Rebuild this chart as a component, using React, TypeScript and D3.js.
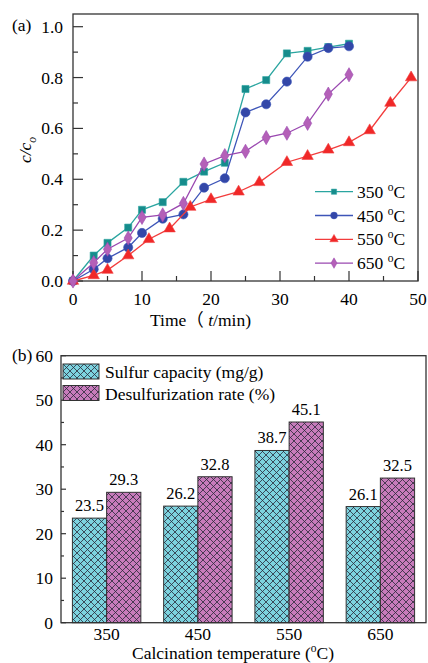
import React from "react";
import * as d3 from "d3";

const timesA = [0, 3, 5, 8, 10, 13, 16, 19, 22, 25, 28, 31, 34, 37, 40];
const c350 = [0, 0.1, 0.15, 0.21, 0.28, 0.31, 0.39, 0.43, 0.465, 0.755, 0.79, 0.895, 0.905, 0.92, 0.933];
const c450 = [0, 0.046, 0.089, 0.132, 0.189, 0.245, 0.262, 0.367, 0.404, 0.663, 0.695, 0.784, 0.882, 0.916, 0.923];
const times550 = [0, 3, 5, 8, 11, 14, 17, 20, 24, 27, 31, 34, 37, 40, 43, 46, 49];
const c550 = [0, 0.022, 0.043, 0.1, 0.164, 0.206, 0.291, 0.321, 0.351, 0.388, 0.467, 0.491, 0.516, 0.545, 0.592, 0.7, 0.8];
const c650 = [0, 0.072, 0.125, 0.169, 0.25, 0.26, 0.305, 0.46, 0.493, 0.51, 0.564, 0.581, 0.62, 0.735, 0.811];
const seriesNames = ["350", "450", "550", "650"];

const xTicksA = [0, 10, 20, 30, 40, 50];
const yTicksA = [0, 0.2, 0.4, 0.6, 0.8, 1.0];

const categories = ["350", "450", "550", "650"];
const sulfurCapacity = [23.5, 26.2, 38.7, 26.1];
const desulfRate = [29.3, 32.8, 45.1, 32.5];
const yTicksB = [0, 10, 20, 30, 40, 50, 60];
const legendB = ["Sulfur capacity (mg/g)", "Desulfurization rate (%)"];

const FONT = "'Liberation Serif', 'Noto Sans CJK SC', serif";
const AX = "#333";
const FS = 17.5;

const seriesStyle = [
  { line: "#2aa5a0", fill: "#168c8c", sym: d3.symbolSquare, size: 50 },
  { line: "#3d55b8", fill: "#3347a8", sym: d3.symbolCircle, size: 66 },
  { line: "#f23c3c", fill: "#f02828", sym: d3.symbolTriangle, size: 56 },
  { line: "#9a48b0", fill: "#b460b8", sym: d3.symbolDiamond, size: 58 },
];

function Deg() {
  return (
    <tspan fontSize="11.5" dy="-7">o</tspan>
  );
}

export default function App() {
  // Top chart
  const x = d3.scaleLinear().domain([0, 50]).range([73, 418]);
  const y = d3.scaleLinear().domain([0, 1.0]).range([281, 26.7]);
  const topY = 14;
  const data = [
    { t: timesA, c: c350 },
    { t: timesA, c: c450 },
    { t: times550, c: c550 },
    { t: timesA, c: c650 },
  ];
  const line = d3.line<[number, number]>().x((d) => x(d[0])).y((d) => y(d[1]));
  const minorX = d3.range(5, 50, 10);
  const minorY = d3.range(0.1, 1.0, 0.2);

  // Bottom chart
  const xb = d3.scaleBand().domain(categories).range([61, 426]).paddingInner(0.25).paddingOuter(0.125);
  const yb = d3.scaleLinear().domain([0, 60]).range([622.7, 355.7]);
  const bw = xb.bandwidth() / 2;
  const minorYB = d3.range(5, 60, 10);

  return (
    <svg width={428} height={663} style={{ position: "absolute", left: 0, top: 0, background: "#fff" }} fontFamily={FONT}>
      <defs>
        <pattern id="hatchC" patternUnits="userSpaceOnUse" width="7" height="7">
          <rect width="7" height="7" fill="#7dd3df" />
          <path d="M0,0L7,7M7,0L0,7M-1,6L1,8M6,-1L8,1M-1,1L1,-1M6,8L8,6" stroke="#2a2a3a" strokeWidth="0.8" />
        </pattern>
        <pattern id="hatchP" patternUnits="userSpaceOnUse" width="7" height="7">
          <rect width="7" height="7" fill="#c77bbb" />
          <path d="M0,0L7,7M7,0L0,7M-1,6L1,8M6,-1L8,1M-1,1L1,-1M6,8L8,6" stroke="#2a2a3a" strokeWidth="0.8" />
        </pattern>
      </defs>

      {/* ===== Top chart (a) ===== */}
      <rect x={x(0)} y={topY} width={x(50) - x(0)} height={y(0) - topY} fill="none" stroke={AX} strokeWidth={1.3} />
      {xTicksA.map((t) => (
        <g key={"xt" + t}>
          <line x1={x(t)} x2={x(t)} y1={y(0)} y2={y(0) - 10} stroke={AX} strokeWidth={1.2} />
          <text x={x(t)} y={305} textAnchor="middle" fontSize={FS}>{t}</text>
        </g>
      ))}
      {minorX.map((t) => (
        <line key={"xm" + t} x1={x(t)} x2={x(t)} y1={y(0)} y2={y(0) - 5} stroke={AX} strokeWidth={1.2} />
      ))}
      {yTicksA.map((t) => (
        <g key={"yt" + t}>
          <line x1={x(0)} x2={x(0) + 10} y1={y(t)} y2={y(t)} stroke={AX} strokeWidth={1.2} />
          <text x={63} y={y(t) + 6} textAnchor="end" fontSize={FS}>{t.toFixed(1)}</text>
        </g>
      ))}
      {minorY.map((t) => (
        <line key={"ym" + t} x1={x(0)} x2={x(0) + 5} y1={y(t)} y2={y(t)} stroke={AX} strokeWidth={1.2} />
      ))}
      <text x={12} y={31} fontSize={FS}>(a)</text>
      <text transform={`translate(31,150) rotate(-90)`} textAnchor="middle" fontSize={FS} fontStyle="italic">
        c/c<tspan fontSize={11.5} dy={5}>o</tspan>
      </text>
      <text x={150} y={325.5} fontSize={FS}>
        Time（ <tspan fontStyle="italic">t</tspan>/min)
      </text>

      {data.map((s, i) => {
        const pts = s.t.map((tt, j) => [tt, s.c[j]] as [number, number]);
        const st = seriesStyle[i];
        const sym = d3.symbol().type(st.sym).size(st.size);
        return (
          <g key={"s" + i}>
            <path d={line(pts) || ""} fill="none" stroke={st.line} strokeWidth={1.3} />
            {pts.map((p, j) => (
              <path key={j} d={sym() || ""} transform={`translate(${x(p[0])},${y(p[1])})`} fill={st.fill} stroke={st.line} strokeWidth={0.6} />
            ))}
          </g>
        );
      })}

      {seriesNames.map((n, i) => {
        const st = seriesStyle[i];
        const cy = 191.7 + i * 23.8;
        const sym = d3.symbol().type(st.sym).size(st.size * 0.55);
        return (
          <g key={"lg" + i}>
            <line x1={315} x2={353} y1={cy} y2={cy} stroke={st.line} strokeWidth={1.3} />
            <path d={sym() || ""} transform={`translate(334,${cy})`} fill={st.fill} stroke={st.line} strokeWidth={0.5} />
            <text x={357} y={cy + 6} fontSize={FS}>
              {n} <Deg /><tspan dy={7}>C</tspan>
            </text>
          </g>
        );
      })}

      {/* ===== Bottom chart (b) ===== */}
      {categories.map((c, i) => {
        const x0 = xb(c) as number;
        return (
          <g key={"bar" + c}>
            <rect x={x0} y={yb(sulfurCapacity[i])} width={bw} height={yb(0) - yb(sulfurCapacity[i])} fill="url(#hatchC)" stroke={AX} strokeWidth={1} />
            <rect x={x0 + bw} y={yb(desulfRate[i])} width={bw} height={yb(0) - yb(desulfRate[i])} fill="url(#hatchP)" stroke={AX} strokeWidth={1} />
            <text x={x0 + bw / 2} y={yb(sulfurCapacity[i]) - 7} textAnchor="middle" fontSize={16.5}>{sulfurCapacity[i].toFixed(1)}</text>
            <text x={x0 + bw * 1.5} y={yb(desulfRate[i]) - 7} textAnchor="middle" fontSize={16.5}>{desulfRate[i].toFixed(1)}</text>
            <text x={x0 + bw} y={639.5} textAnchor="middle" fontSize={FS}>{c}</text>
          </g>
        );
      })}
      <rect x={61} y={yb(60)} width={426 - 61} height={yb(0) - yb(60)} fill="none" stroke={AX} strokeWidth={1.3} />
      {yTicksB.map((t) => (
        <g key={"ybt" + t}>
          <line x1={61} x2={66} y1={yb(t)} y2={yb(t)} stroke={AX} strokeWidth={1.2} />
          <text x={53} y={yb(t) + 6} textAnchor="end" fontSize={FS}>{t}</text>
        </g>
      ))}
      {minorYB.map((t) => (
        <line key={"ybm" + t} x1={61} x2={64} y1={yb(t)} y2={yb(t)} stroke={AX} strokeWidth={1.2} />
      ))}
      <text x={12} y={361} fontSize={FS}>(b)</text>
      {legendB.map((l, i) => (
        <g key={"lb" + i}>
          <rect x={63} y={364 + i * 21.5} width={36} height={15} fill={i === 0 ? "url(#hatchC)" : "url(#hatchP)"} stroke={AX} strokeWidth={1} />
          <text x={105} y={378 + i * 21.5} fontSize={FS}>{l}</text>
        </g>
      ))}
      <text x={233} y={658.5} textAnchor="middle" fontSize={FS}>
        Calcination temperature (<Deg /><tspan dy={7}>C)</tspan>
      </text>
    </svg>
  );
}
